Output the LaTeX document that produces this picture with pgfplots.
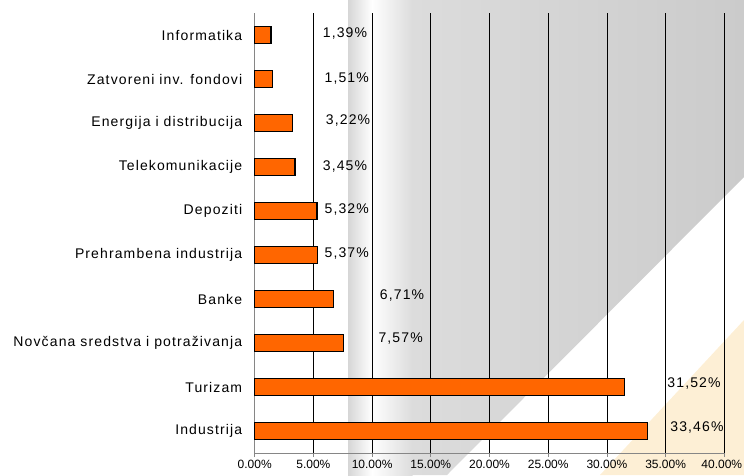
\documentclass[border=0pt]{standalone}
\usepackage{fontspec}
\setmainfont{Liberation Sans}[LetterSpace=8]
\newfontfamily\plainfont{Liberation Sans}
\usepackage{pgfplots}
\pgfplotsset{compat=1.18}
\definecolor{barorange}{HTML}{FF6600}
\definecolor{bgdark}{HTML}{CBCBCB}
\definecolor{bglight}{HTML}{DCDCDC}
\definecolor{bgedge}{HTML}{D6D6D6}
\definecolor{cream}{HTML}{FDEFD5}
\definecolor{axgray}{HTML}{868686}
\begin{document}
\begin{tikzpicture}
\begin{scope}[shift={(-254.7pt,453pt)}, x=1pt, y=-1pt]
  \path[use as bounding box] (0,0) rectangle (744,475);
  \shade[left color=bglight, right color=bgdark] (412,0) -- (744,0) -- (744,177) -- (447,475) -- (412,475) -- cycle;
  \shade[left color=white, right color=bglight] (372,0) rectangle (412.5,475);
  \shade[left color=bgedge, right color=white] (348,0) rectangle (372,475);
  \fill[cream] (600,475) -- (744,320) -- (744,475) -- cycle;
\end{scope}
\begin{axis}[
  scale only axis, width=469.6pt, height=440pt,
  at={(0,0)}, anchor=south west,
  xmin=0, xmax=40, ymin=-0.5, ymax=9.5, y dir=reverse,
  axis x line*=bottom, axis y line*=left,
  axis line style={draw=axgray, line width=1pt, -},
  xtick={0,5,...,40},
  xticklabels={0.00\%,5.00\%,10.00\%,15.00\%,20.00\%,25.00\%,30.00\%,35.00\%,40.00\%\kern5pt},
  xmajorgrids, grid style={black, line width=0.7pt},
  tick align=outside, major tick length=4pt,
  xtick style={draw=axgray, line width=0.8pt},
  ytick={0,...,9},
  yticklabels={Informatika,Zatvoreni inv. fondovi,Energija i distribucija,Telekomunikacije,Depoziti,Prehrambena industrija,Banke,Novčana sredstva i potraživanja,Turizam,Industrija\ },
  ytick style={draw=none},
  xticklabel style={font=\plainfont\fontsize{12}{14}\selectfont, overlay},
  yticklabel style={font=\fontsize{14}{16}\selectfont, xshift=-5pt, overlay},
  clip=false,
]
\addplot[xbar, bar width=17pt, fill=barorange, draw=black, line width=1.5pt]
  coordinates {(1.39,0) (1.51,1) (3.22,2) (3.45,3) (5.32,4) (5.37,5) (6.71,6) (7.57,7) (31.52,8) (33.46,9)};
\addplot[only marks, mark=*, mark size=0pt, mark options={draw=none, fill=none},
  nodes near coords, point meta=explicit symbolic,
  every node near coord/.append style={anchor=center, font=\fontsize{14}{16}\selectfont, text=black, overlay}]
  table[meta=lab] {
x y lab
7.69 -0.045 1,39\%
7.84 0.984 1,51\%
7.95 1.948 3,22\%
7.69 2.993 3,45\%
7.84 3.977 5,32\%
7.84 4.977 5,37\%
12.55 5.93 6,71\%
12.43 6.89 7,57\%
37.42 7.92 31,52\%
37.67 8.92 33,46\%
};
\end{axis}
\end{tikzpicture}
\end{document}
